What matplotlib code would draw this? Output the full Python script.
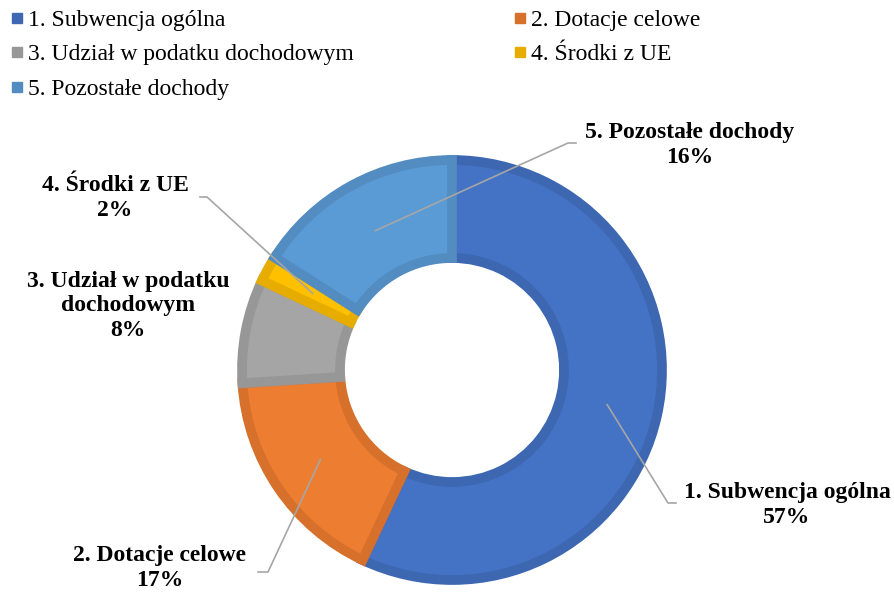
import numpy as np
import matplotlib
matplotlib.use('Agg')
import matplotlib.pyplot as plt
from matplotlib.lines import Line2D

plt.rcParams['font.family'] = ['Liberation Serif', 'DejaVu Serif']

# dane
categories = ['1. Subwencja ogólna', '2. Dotacje celowe', '3. Udział w podatku dochodowym',
              '4. Środki z UE', '5. Pozostałe dochody']
label_text = ['1. Subwencja ogólna', '2. Dotacje celowe', '3. Udział w podatku\ndochodowym',
              '4. Środki z UE', '5. Pozostałe dochody']
shares = [57, 17, 8, 2, 16]

fills = ['#4472C4', '#ED7D31', '#A5A5A5', '#FFC000', '#5B9BD5']
edges = ['#3E67B2', '#D6702B', '#979797', '#E6AD00', '#528CC1']

W, H = 895, 597
cx, cy = 452, H - 370
R_out, ring = 210, 98

fig = plt.figure(figsize=(W / 100, H / 100), dpi=100)
ax = fig.add_axes([0, 0, 1, 1])

wedges, _ = ax.pie(shares, colors=fills, startangle=90, counterclock=False,
                   center=(cx, cy), radius=R_out,
                   wedgeprops=dict(width=ring, linewidth=7))
for w, ec in zip(wedges, edges):
    w.set_edgecolor(ec)

# pie() ustawia własne granice - nadpisujemy
ax.set_aspect('auto')
ax.set_xlim(0, W)
ax.set_ylim(0, H)
ax.axis('off')

# etykiety (pozycje w pikselach, y od góry)
lab_pos = [(787, 505), (160, 568), (128, 306), (115, 198), (690, 145)]
leader_end = [(676, 503), (258, 572), None, (200, 197), (576, 143)]
leader_elbow = [(668, 503), (268, 572), None, (207, 197), (568, 143)]

mid_r = R_out - ring / 2 - 2
for i, (w, txt, pct) in enumerate(zip(wedges, label_text, shares)):
    x, y = lab_pos[i]
    ax.text(x, H - y, f'{txt}\n{pct}%', ha='center', va='center', fontsize=17,
            fontweight='bold', linespacing=1.25, color='#000000')
    if leader_end[i] is None:
        continue
    ang = np.deg2rad((w.theta1 + w.theta2) / 2)
    axp = cx + mid_r * np.cos(ang)
    ayp = cy + mid_r * np.sin(ang)
    ex, ey = leader_elbow[i]
    tx, ty = leader_end[i]
    ax.plot([axp, ex, tx], [ayp, H - ey, H - ty], color='#A6A6A6', lw=1.2,
            solid_joinstyle='round', zorder=5)

# legenda: kolejność wierszami (2 kolumny)
handles = [Line2D([], [], marker='s', ls='none', markersize=7.5, color=edges[i])
           for i in range(len(categories))]
order = [0, 2, 4, 1, 3]
ax.legend([handles[i] for i in order], [categories[i] for i in order],
          ncol=2, loc='upper left', bbox_to_anchor=(0.0, 1.0), frameon=False,
          fontsize=17, handlelength=0.6, handletextpad=0.17, columnspacing=6.75,
          labelspacing=0.55, borderaxespad=0.0)

fig.savefig('out.png', dpi=100)
